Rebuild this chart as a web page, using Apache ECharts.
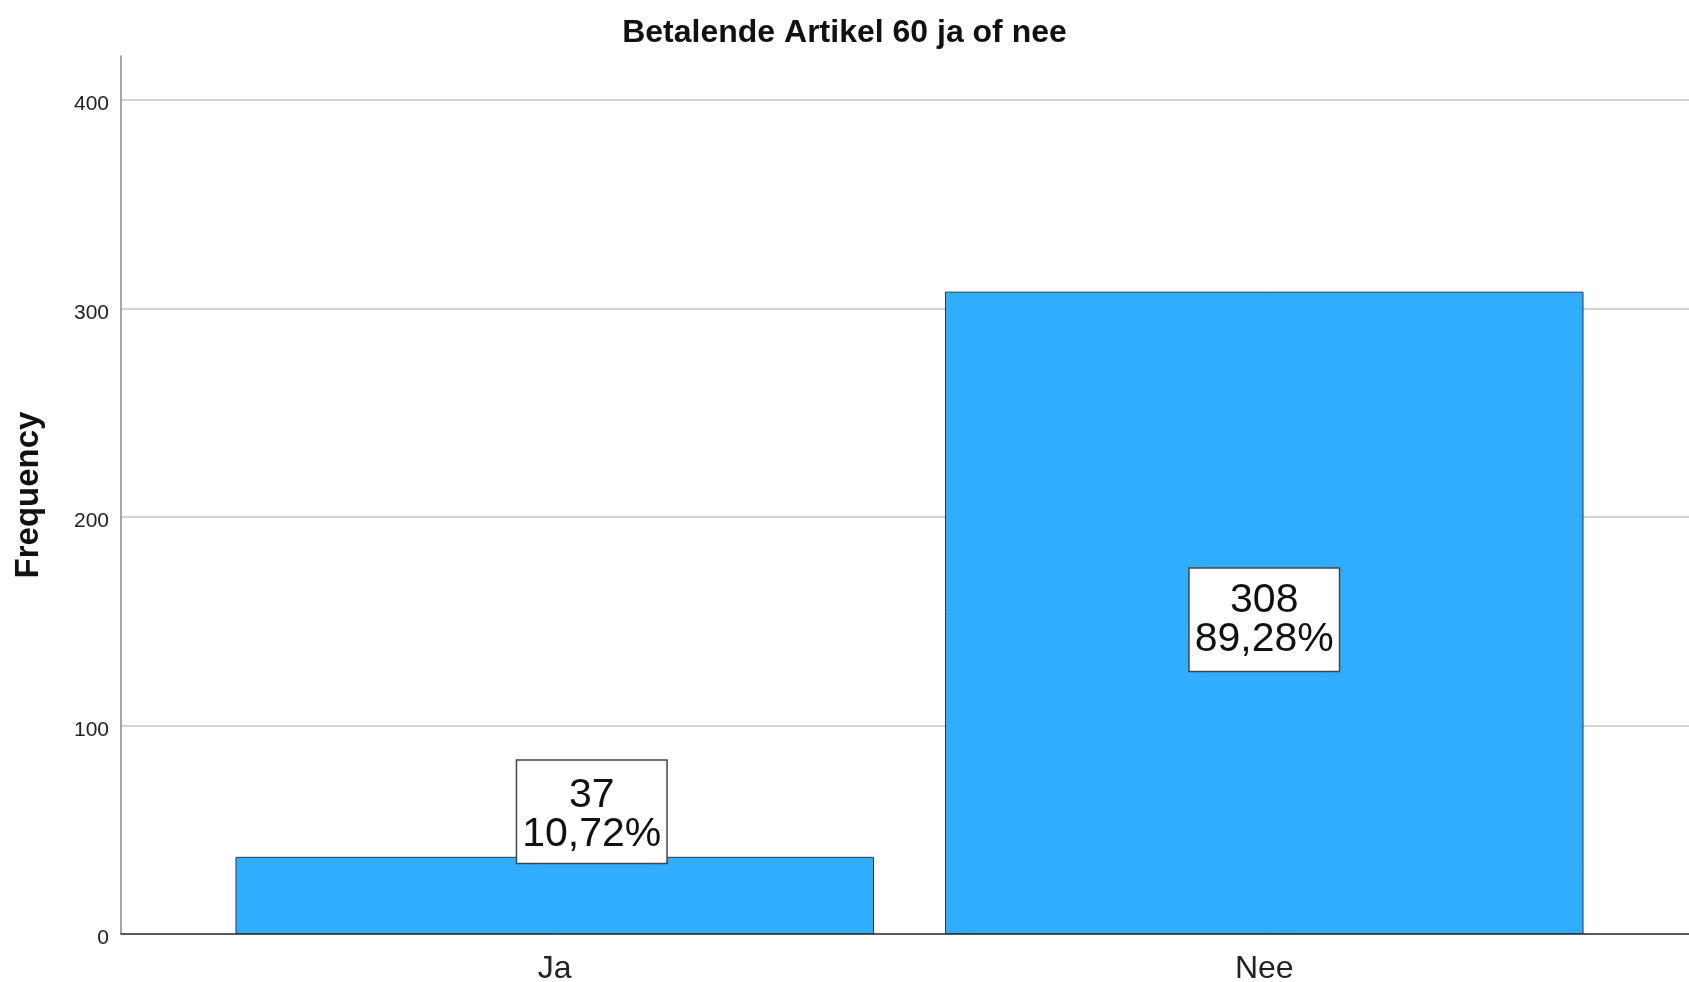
<!DOCTYPE html>
<html>
<head>
<meta charset="utf-8">
<script src="https://cdn.jsdelivr.net/npm/echarts@6/dist/echarts.min.js"></script>
<style>
html,body{margin:0;padding:0;background:#fff;}
#chart{width:1689px;height:982px;}
</style>
</head>
<body>
<div id="chart"></div>
<script>
var titleText = 'Betalende Artikel 60 ja of nee';
var categories = ['Ja', 'Nee'];
var counts = [37, 308];
var percents = [10.72, 89.28];
var yTicks = [0, 100, 200, 300, 400];
var yAxisName = 'Frequency';

var FONT = '"Liberation Sans", Arial, sans-serif';

function pctText(p) {
  return p.toFixed(2).replace('.', ',') + '%';
}

var labelBase = {
  show: true,
  fontFamily: FONT,
  fontSize: 41,
  lineHeight: 39,
  color: '#111',
  backgroundColor: '#ffffff',
  borderColor: '#444',
  borderWidth: 1.5,
  padding: [15, 5, 9, 5],
  align: 'center',
  formatter: function (p) {
    return counts[p.dataIndex] + '\n' + pctText(percents[p.dataIndex]);
  }
};

var seriesData = categories.map(function (c, i) {
  var lbl = Object.assign({}, labelBase);
  if (i === 0) {
    lbl.position = 'top';
    lbl.distance = 0;
    lbl.offset = [37, 6];
  } else {
    lbl.position = 'inside';
    lbl.offset = [0, 7];
  }
  return { value: counts[i], label: lbl };
});

var chart = echarts.init(document.getElementById('chart'));
chart.setOption({
  backgroundColor: '#ffffff',
  animation: false,
  title: {
    text: titleText,
    left: 'center',
    top: 12,
    textStyle: { fontFamily: FONT, fontSize: 32, fontWeight: 'bold', color: '#111' }
  },
  grid: [
    { left: 121, right: 0, top: 56, bottom: 48, containLabel: false, outerBoundsMode: 'none' },
    { left: 200, width: 1419, top: 56, bottom: 48, containLabel: false, outerBoundsMode: 'none' }
  ],
  xAxis: [
    {
      gridIndex: 0, type: 'category', data: categories,
      axisLine: { show: true, lineStyle: { color: '#333', width: 1.5 } },
      axisTick: { show: false }, axisLabel: { show: false }, splitLine: { show: false }
    },
    {
      gridIndex: 1, type: 'category', data: categories,
      axisLine: { show: false }, axisTick: { show: false }, splitLine: { show: false },
      axisLabel: { fontFamily: FONT, fontSize: 32, color: '#222', margin: 19 }
    }
  ],
  yAxis: [
    {
      gridIndex: 0, type: 'value', min: 0, max: 421, interval: 100,
      name: yAxisName, nameLocation: 'middle', nameGap: 76,
      nameTextStyle: { fontFamily: FONT, fontSize: 33, fontWeight: 'bold', color: '#111' },
      axisLine: { show: true, lineStyle: { color: '#888', width: 1.5 } },
      axisTick: { show: false },
      axisLabel: {
        fontFamily: FONT, fontSize: 21, color: '#222', margin: 12, showMaxLabel: false,
        formatter: function (v) { return yTicks.indexOf(v) >= 0 ? '{t|' + v + '}' : ''; },
        rich: { t: { fontFamily: FONT, fontSize: 21, color: '#222', padding: [9, 0, 0, 0] } }
      },
      splitLine: { show: true, showMaxLine: false, lineStyle: { color: '#c4c4c4', width: 1.5 } }
    },
    {
      gridIndex: 1, type: 'value', min: 0, max: 421, interval: 100, show: false,
      splitLine: { show: false }
    }
  ],
  series: [{
    type: 'bar',
    xAxisIndex: 1,
    yAxisIndex: 1,
    barCategoryGap: '10%',
    itemStyle: { color: '#31adff', borderColor: '#2a3a48', borderWidth: 1 },
    data: seriesData
  }]
});
</script>
</body>
</html>
